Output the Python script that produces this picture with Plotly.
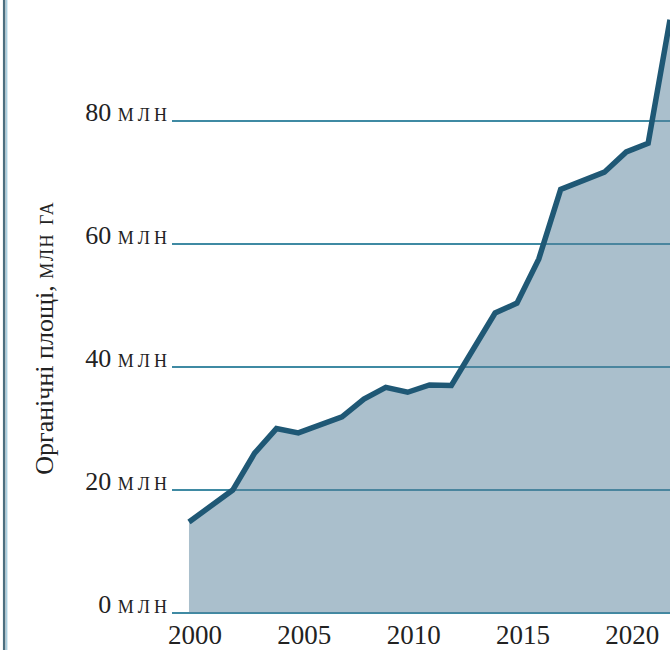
import plotly.graph_objects as go

years = list(range(2000, 2023))
area_mln_ha = [14.8, 17.3, 20.0, 26.0, 30.0, 29.3, 30.5, 31.9, 34.8, 36.7, 35.9, 37.1,
               37.0, 43.0, 48.8, 50.4, 57.6, 68.9, 70.4, 71.7, 75.0, 76.4, 96.5]

SC_TICK = "font-variant:small-caps;letter-spacing:4px"
SC_TITLE = "font-variant:small-caps;letter-spacing:1.5px"
y_tick_vals = [0, 20, 40, 60, 80]
y_tick_text = [f"{v} <span style='{SC_TICK}'>млн</span>" for v in y_tick_vals]
x_tick_vals = [2000, 2005, 2010, 2015, 2020]
x_tick_text = [str(v) for v in x_tick_vals]
y_title = f"Органічні площі, <span style='{SC_TITLE}'>млн га</span>"

FONT = "Liberation Serif"
TXT = "#222222"

fig = go.Figure()
fig.add_trace(go.Scatter(
    x=years, y=area_mln_ha, mode="lines",
    fill="tozeroy", fillcolor="rgba(85,127,153,0.5)",
    line=dict(color="#1f5875", width=5.5),
    hoverinfo="skip", showlegend=False,
))

fig.update_layout(
    width=670, height=650,
    margin=dict(l=172, r=0, t=0, b=37),
    paper_bgcolor="white", plot_bgcolor="white",
    showlegend=False,
    xaxis=dict(
        range=[1999.223, 2022], tickvals=x_tick_vals, ticktext=x_tick_text,
        showgrid=False, zeroline=False, showline=False, ticks="",
        tickfont=dict(family=FONT, size=27, color=TXT),
        ticklabelstandoff=3, ticklabelshift=6, automargin=False,
    ),
    yaxis=dict(
        range=[0, 99.7], tickvals=y_tick_vals, ticktext=y_tick_text,
        showgrid=True, gridcolor="#3f8aa3", gridwidth=1.5,
        zeroline=True, zerolinecolor="#3f8aa3", zerolinewidth=1.5,
        showline=False, ticks="",
        tickfont=dict(family=FONT, size=26, color=TXT),
        ticklabelstandoff=0, ticklabelshift=-9, automargin=False,
    ),
    annotations=[dict(
        text=y_title, textangle=-90, showarrow=False,
        xref="paper", yref="paper", x=-0.255, y=0.449,
        xanchor="center", yanchor="middle",
        font=dict(family=FONT, size=26, color=TXT),
    )],
    shapes=[
        dict(type="line", xref="paper", yref="paper", x0=-0.337, x1=-0.337, y0=-0.07, y1=1.0,
             line=dict(color="#4c6f80", width=2.5)),
        dict(type="line", xref="paper", yref="paper", x0=-0.332, x1=-0.332, y0=-0.07, y1=1.0,
             line=dict(color="#a9cfe0", width=1.5)),
    ],
)

fig.write_html(
    "out.html",
    config={"displayModeBar": False},
    post_script="document.body.style.margin='0';document.body.style.padding='0';",
)
